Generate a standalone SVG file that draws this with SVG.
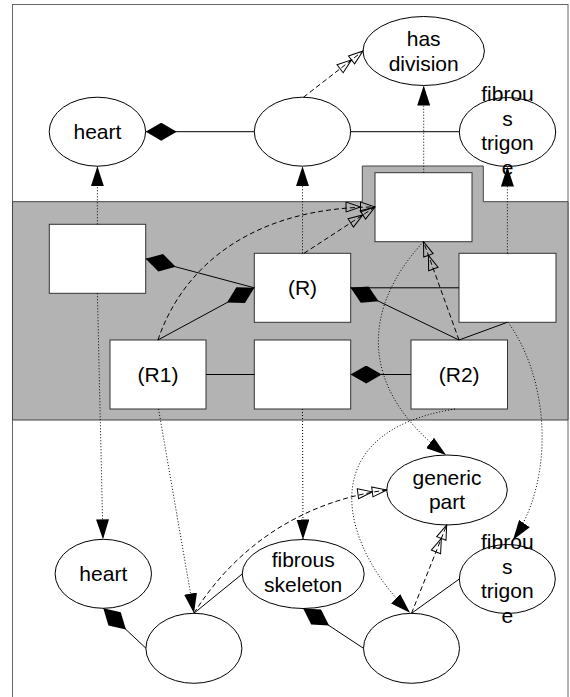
<svg xmlns="http://www.w3.org/2000/svg" width="570" height="697" viewBox="0 0 570 697">
<defs>
<style>
.t{font-family:"Liberation Sans",Arial,sans-serif;font-size:21px;fill:#000;text-anchor:middle}
.el{fill:#fff;stroke:#000;stroke-width:1}
.bx{fill:#fff;stroke:#333;stroke-width:1}
.s{fill:none;stroke:#000;stroke-width:1}
.dm{marker-start:url(#diamond)}
.da{fill:none;stroke:#000;stroke-width:1;stroke-dasharray:5,3;marker-end:url(#hollow2)}
.dt{fill:none;stroke:#000;stroke-width:1;stroke-dasharray:1,2;marker-end:url(#arrow)}
</style>
<marker id="arrow" viewBox="0 0 20 13" refX="20" refY="6.5" markerWidth="20" markerHeight="13" markerUnits="userSpaceOnUse" orient="auto">
<path d="M0,0 L20,6.5 L0,13 Z" fill="#000"/>
</marker>
<marker id="hollow2" viewBox="0 0 31 12" refX="30" refY="6" markerWidth="31" markerHeight="12" markerUnits="userSpaceOnUse" orient="auto">
<path d="M15.5,1 L30,6 L15.5,11 Z M1,1 L15.5,6 L1,11 Z" fill="none" stroke="#000" stroke-width="1"/>
</marker>
<marker id="diamond" viewBox="0 0 31 18" refX="0" refY="9" markerWidth="31" markerHeight="18" markerUnits="userSpaceOnUse" orient="auto">
<path d="M0,9 L15.5,0 L31,9 L15.5,18 Z" fill="#000"/>
</marker>
</defs>
<rect x="12.5" y="4.5" width="555.5" height="720" fill="#fff" stroke="#666" stroke-width="1"/>
<polygon points="12.5,201.7 362.3,201.7 362.3,166 483.3,166 483.3,201.7 568,201.7 568,420 12.5,420" fill="#b3b3b3" stroke="#444" stroke-width="1"/>

<g id="heart-top"><ellipse class="el" cx="97.4" cy="131.7" rx="48.2" ry="34.5"/><text class="t" x="97.4" y="138.5">heart</text></g>
<g id="mid-top"><ellipse class="el" cx="302.5" cy="131.7" rx="48.2" ry="34.5"/></g>
<g id="has-division"><ellipse class="el" cx="423.7" cy="51" rx="60.7" ry="34.5"/><text class="t" x="423.7" y="46">has</text><text class="t" x="423.7" y="70.5">division</text></g>
<g id="fibrous-trigone-top"><ellipse class="el" cx="507.5" cy="132" rx="48.2" ry="34.5"/><text class="t" x="507.5" y="101">fibrou</text><text class="t" x="507.5" y="125.5">s</text><text class="t" x="507.5" y="150">trigon</text><text class="t" x="507.5" y="174.5">e</text></g>

<g id="box-A"><rect class="bx" x="49.3" y="224.3" width="96.4" height="69"/></g>
<g id="box-T"><rect class="bx" x="375" y="172.7" width="97" height="69"/></g>
<g id="box-R"><rect class="bx" x="254.3" y="253.3" width="96.4" height="69"/><text class="t" x="302.5" y="295">(R)</text></g>
<g id="box-RR"><rect class="bx" x="459" y="253.3" width="97" height="69"/></g>
<g id="box-R1"><rect class="bx" x="110" y="340" width="96" height="69"/><text class="t" x="158" y="381.8">(R1)</text></g>
<g id="box-M"><rect class="bx" x="254.3" y="340" width="96.4" height="69"/></g>
<g id="box-R2"><rect class="bx" x="411" y="340" width="96.5" height="69"/><text class="t" x="459.2" y="381.8">(R2)</text></g>

<g id="heart-bottom"><ellipse class="el" cx="103.3" cy="573.8" rx="48.2" ry="34.5"/><text class="t" x="103.3" y="581">heart</text></g>
<g id="empty-1"><ellipse class="el" cx="193.9" cy="648.3" rx="48" ry="35"/></g>
<g id="fibrous-skeleton"><ellipse class="el" cx="303.2" cy="574" rx="61" ry="34.5"/><text class="t" x="303.2" y="567">fibrous</text><text class="t" x="303.2" y="591.5">skeleton</text></g>
<g id="empty-2"><ellipse class="el" cx="411.5" cy="648.3" rx="48" ry="35"/></g>
<g id="generic-part"><ellipse class="el" cx="447" cy="490" rx="60.3" ry="35"/><text class="t" x="447" y="484.5">generic</text><text class="t" x="447" y="509">part</text></g>
<g id="fibrous-trigone-bottom"><ellipse class="el" cx="507.3" cy="579" rx="48" ry="34.5"/><text class="t" x="507.3" y="549">fibrou</text><text class="t" x="507.3" y="573.5">s</text><text class="t" x="507.3" y="598">trigon</text><text class="t" x="507.3" y="622.5">e</text></g>

<g id="connectors">
<path class="s dm" d="M145.7,131.7 L254.3,131.7"/>
<path class="s dm" d="M145.7,258.8 L254.3,287.8"/>
<path class="s dm" d="M254.3,287.8 L157.9,340"/>
<path class="s dm" d="M350.7,287.8 L459,340"/>
<path class="s dm" d="M350.7,374.5 L411,374.5"/>
<path class="s dm" d="M103.3,608.3 L146,648.3"/>
<path class="s dm" d="M303.2,608.5 L363.5,648.3"/>
<path class="s" d="M350.7,131.7 L459.3,131.7"/>
<path class="s" d="M350.7,287.8 L459,287.8"/>
<path class="s" d="M507.3,322.3 L459,340"/>
<path class="s" d="M206,374.5 L254.3,374.5"/>
<path class="s" d="M193.9,613.3 L242.2,574"/>
<path class="s" d="M411.5,613.3 L459.3,579"/>
<path class="da" d="M303.5,97.2 L363,51"/>
<path class="da" d="M157.9,340 C185,260 260,207 375,207"/>
<path class="da" d="M304,253.3 L375,207"/>
<path class="da" d="M459,340 L423.5,241.7"/>
<path class="da" d="M193.9,613.3 C240,540 310,500 386.7,490"/>
<path class="da" d="M411.5,613.3 L446.7,525"/>
<path class="dt" d="M97.4,224.3 L97.4,166.2"/>
<path class="dt" d="M302.5,253.3 L302.5,166.2"/>
<path class="dt" d="M423.7,172.7 L423.7,85.5"/>
<path class="dt" d="M507.4,253.3 L507.4,166.5"/>
<path class="dt" d="M97.4,293.3 L103,539.3"/>
<path class="dt" d="M158.5,409 L194,613.3"/>
<path class="dt" d="M302.5,409 L303,539.5"/>
<path class="dt" d="M423.5,241.7 C360,310 360,390 446,455"/>
<path class="dt" d="M455,409 C310,432 340,545 410,612.7"/>
<path class="dt" d="M508,322.3 C550,380 555,480 513,540"/>
</g>
</svg>
